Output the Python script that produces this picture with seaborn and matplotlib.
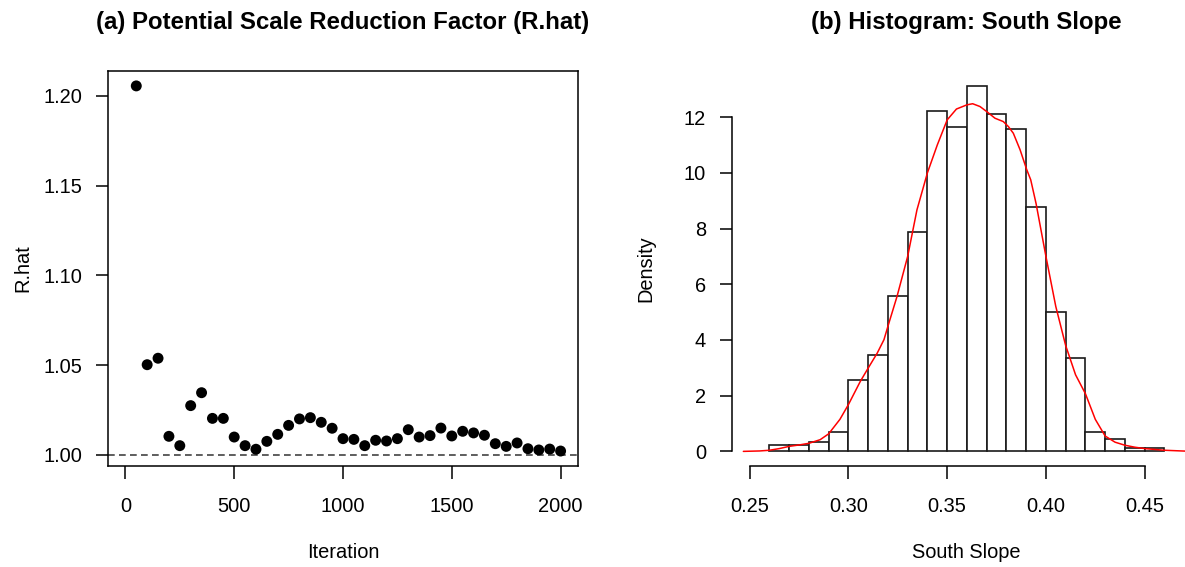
import numpy as np
import pandas as pd
import matplotlib
matplotlib.use("Agg")
import matplotlib.pyplot as plt
import seaborn as sns

# ---------------- data ----------------
iterations = list(range(50, 2001, 50))
rhat = [1.2056, 1.0503, 1.0539, 1.0104, 1.0052, 1.0275, 1.0347, 1.0204, 1.0204, 1.0100,
        1.0052, 1.0032, 1.0076, 1.0115, 1.0165, 1.0201, 1.0208, 1.0182, 1.0149, 1.0091,
        1.0087, 1.0052, 1.0082, 1.0078, 1.0091, 1.0141, 1.0100, 1.0108, 1.0150, 1.0106,
        1.0132, 1.0123, 1.0110, 1.0063, 1.0048, 1.0067, 1.0035, 1.0028, 1.0033, 1.0022]

bin_edges = [0.26, 0.27, 0.28, 0.29, 0.30, 0.31, 0.32, 0.33, 0.34, 0.35, 0.36,
             0.37, 0.38, 0.39, 0.40, 0.41, 0.42, 0.43, 0.44, 0.45, 0.46]
bin_density = [0.24, 0.22, 0.335, 0.68, 2.57, 3.47, 5.57, 7.88, 12.22, 11.66,
               13.13, 12.12, 11.56, 8.78, 5.02, 3.35, 0.68, 0.45, 0.12, 0.12]

kde_x = [0.2468, 0.255, 0.26, 0.265, 0.27, 0.275, 0.28, 0.2857, 0.29, 0.2957, 0.30,
         0.306, 0.31, 0.3146, 0.318, 0.32, 0.3246, 0.33, 0.3347, 0.34, 0.345, 0.35,
         0.3547, 0.36, 0.3629, 0.3666, 0.37, 0.3742, 0.3784, 0.381, 0.3835, 0.3869,
         0.3903, 0.3923, 0.395, 0.40, 0.405, 0.41, 0.415, 0.42, 0.425, 0.43, 0.435,
         0.44, 0.445, 0.45, 0.46, 0.4705]
kde_y = [0.0, 0.015, 0.04, 0.10, 0.18, 0.23, 0.29, 0.42, 0.63, 1.15, 1.68,
         2.51, 2.99, 3.53, 4.01, 4.49, 5.56, 7.00, 8.67, 10.0, 11.0, 11.90,
         12.29, 12.44, 12.48, 12.38, 12.20, 11.96, 11.84, 11.66, 11.42, 10.83,
         10.11, 9.75, 8.9, 7.0, 5.2, 3.8, 2.75, 2.07, 1.15, 0.55, 0.33,
         0.22, 0.15, 0.10, 0.04, 0.01]

x_ticks_a = [0, 500, 1000, 1500, 2000]
y_ticks_a = [1.00, 1.05, 1.10, 1.15, 1.20]
x_ticks_b = [0.25, 0.30, 0.35, 0.40, 0.45]
y_ticks_b = [0, 2, 4, 6, 8, 10, 12]

# ---------------- style ----------------
sns.set_style("white")
plt.rcParams["font.family"] = ["Liberation Sans", "DejaVu Sans"]
plt.rcParams["axes.linewidth"] = 1.1
plt.rcParams["text.color"] = "black"
plt.rcParams["axes.labelcolor"] = "black"
plt.rcParams["xtick.color"] = "black"
plt.rcParams["ytick.color"] = "black"

W, H = 1185, 567
fig = plt.figure(figsize=(W / 100, H / 100), dpi=100)

def fx(px):
    return px / W

def fy(py):
    return (H - py) / H

top, bot = 71, 466
ax1 = fig.add_axes([fx(108), fy(bot), (578 - 108) / W, (bot - top) / H])
ax2 = fig.add_axes([fx(731.7), fy(bot), (1185 - 731.7) / W, (bot - top) / H])

FS = 14.4
TFS = 17.3

# ---------------- panel (a) ----------------
dfa = pd.DataFrame({"Iteration": iterations, "R.hat": rhat})
sns.scatterplot(data=dfa, x="Iteration", y="R.hat", color="black", s=62,
                edgecolor="none", ax=ax1, zorder=3)
ax1.axhline(1.0, color="#333333", lw=1.1, linestyle=(0, (4.4, 2.8)), zorder=2)
ax1.set_xlim(-80, 2080)
ax1.set_ylim(0.99387, 1.2139)
ax1.set_xticks(x_ticks_a)
ax1.set_xticklabels([str(v) for v in x_ticks_a])
ax1.set_yticks(y_ticks_a)
ax1.set_yticklabels([f"{v:.2f}" for v in y_ticks_a])
for s in ax1.spines.values():
    s.set_visible(True)
    s.set_color("black")
    s.set_linewidth(1.1)
ax1.tick_params(axis="both", direction="out", length=9, width=1.1, color="black",
                labelsize=FS, labelcolor="black")
ax1.tick_params(axis="x", pad=13.5, bottom=True)
ax1.tick_params(axis="y", pad=9.5, left=True)
ax1.set_xlabel("Iteration", fontsize=FS, color="black")
ax1.set_ylabel("R.hat", fontsize=FS, color="black")
ax1.xaxis.set_label_coords(0.5, (bot - 552) / (bot - top))
ax1.xaxis.label.set_va("center")
ax1.yaxis.set_label_coords((23 - 108) / 470, 0.5)
ax1.yaxis.label.set_va("center")
ax1.text(0.5, (bot - 22) / (bot - top), "(a) Potential Scale Reduction Factor (R.hat)",
         transform=ax1.transAxes, ha="center", va="center", fontsize=TFS,
         fontweight="bold", color="black")

# ---------------- panel (b) ----------------
centers = [(bin_edges[i] + bin_edges[i + 1]) / 2 for i in range(len(bin_density))]
dfb = pd.DataFrame({"South Slope": centers, "Density": bin_density})
sns.histplot(data=dfb, x="South Slope", weights="Density", bins=bin_edges,
             stat="count", color="white", edgecolor="#1a1a1a", linewidth=1.2,
             alpha=1.0, ax=ax2, zorder=2)
dfk = pd.DataFrame({"x": kde_x, "y": kde_y})
sns.lineplot(data=dfk, x="x", y="y", color="red", lw=1.1, ax=ax2, zorder=3,
             estimator=None, sort=False)
ax2.set_xlim(0.2409, 0.2409 + (1185 - 731.7) / 1975)
ax2.set_ylim(-0.525, 13.655)
ax2.set_xticks(x_ticks_b)
ax2.set_xticklabels([f"{v:.2f}" for v in x_ticks_b])
ax2.set_yticks(y_ticks_b)
ax2.set_yticklabels([str(v) for v in y_ticks_b])
ax2.spines["top"].set_visible(False)
ax2.spines["right"].set_visible(False)
ax2.spines["left"].set_visible(True)
ax2.spines["bottom"].set_visible(True)
ax2.spines["left"].set_bounds(0, 12)
ax2.spines["bottom"].set_bounds(0.25, 0.45)
for s in ("left", "bottom"):
    ax2.spines[s].set_color("black")
    ax2.spines[s].set_linewidth(1.1)
ax2.tick_params(axis="both", direction="out", length=9, width=1.1, color="black",
                labelsize=FS, labelcolor="black")
ax2.tick_params(axis="x", pad=13.5, bottom=True)
ax2.tick_params(axis="y", pad=9.5, left=True)
ax2.set_xlabel("South Slope", fontsize=FS, color="black")
ax2.set_ylabel("Density", fontsize=FS, color="black")
ax2.xaxis.set_label_coords((966 - 731.7) / 453.3, (bot - 552) / (bot - top))
ax2.xaxis.label.set_va("center")
ax2.yaxis.set_label_coords((646 - 731.7) / 453.3, 0.5)
ax2.yaxis.label.set_va("center")
ax2.text((966 - 731.7) / 453.3, (bot - 22) / (bot - top), "(b) Histogram: South Slope",
         transform=ax2.transAxes, ha="center", va="center", fontsize=TFS,
         fontweight="bold", color="black")

fig.savefig("out.png", dpi=100)
